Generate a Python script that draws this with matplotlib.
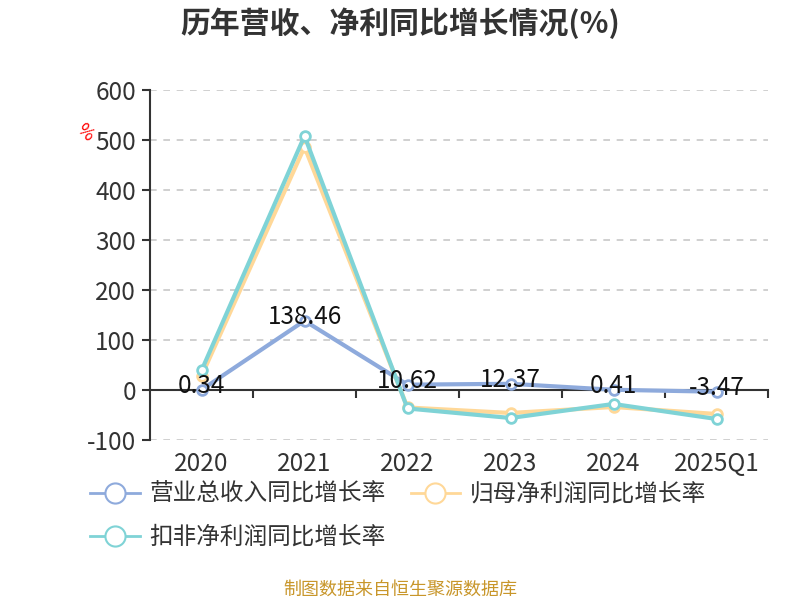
import matplotlib.pyplot as plt
from matplotlib.lines import Line2D

plt.rcParams['font.family'] = ['Noto Sans CJK SC', 'DejaVu Sans']
plt.rcParams['axes.unicode_minus'] = False

# data
years = ['2020', '2021', '2022', '2023', '2024', '2025Q1']
revenue_growth = [0.34, 138.46, 10.62, 12.37, 0.41, -3.47]
parent_profit_growth = [28, 486, -35, -46, -34, -48]
deducted_profit_growth = [39, 508, -37, -56, -28, -58]

series_names = ['营业总收入同比增长率', '归母净利润同比增长率', '扣非净利润同比增长率']
colors = ['#8eaadc', '#ffd898', '#7fd3d6']

fig = plt.figure(figsize=(8, 6), dpi=100)
ax = fig.add_axes([0.1875, 0.2667, 0.7725, 0.5833])

x = list(range(len(years)))
for vals, c in zip([revenue_growth, parent_profit_growth, deducted_profit_growth], colors):
    ax.plot(x, vals, color=c, lw=3, marker='o', markersize=7,
            markerfacecolor='white', markeredgecolor=c, markeredgewidth=2, zorder=3)

for xi, v in zip(x, revenue_growth):
    ax.annotate(f'{v:.2f}', (xi, v), xytext=(0, 3), textcoords='offset points',
                ha='center', va='center', fontsize=17.5, color='#111111', zorder=5)

ax.set_xlim(-0.5, len(years) - 0.5)
ax.set_ylim(-100, 600)
ax.set_yticks(range(-100, 601, 100))
ax.yaxis.grid(True, linestyle=(0, (4, 4)), color='#c8c8c8', lw=1.2)
ax.set_axisbelow(True)

for s in ['top', 'right']:
    ax.spines[s].set_visible(False)
ax.spines['left'].set_color('#333333')
ax.spines['left'].set_linewidth(1.5)
ax.spines['bottom'].set_position(('data', 0))
ax.spines['bottom'].set_color('#333333')
ax.spines['bottom'].set_linewidth(1.5)

ax.tick_params(axis='y', length=6, width=1.5, color='#333333', labelsize=17.5,
               labelcolor='#333333', pad=4)
ax.set_xticks([i + 0.5 for i in x])
ax.set_xticklabels([])
ax.tick_params(axis='x', length=6, width=1.5, color='#333333', direction='out')

sec = ax.secondary_xaxis(0.0)
sec.set_xticks(x)
sec.set_xticklabels(years)
sec.tick_params(length=0, labelsize=17.5, labelcolor='#333333', pad=8)
sec.spines['bottom'].set_visible(False)

ax.text(-0.105, 0.88, '%', transform=ax.transAxes, color='red', fontsize=13,
        rotation=-45, ha='center', va='center')

fig.text(0.5, 0.962, '历年营收、净利同比增长情况(%)', ha='center', va='center',
         fontsize=21.5, fontweight='bold', color='#333333')

handles = [Line2D([0], [0], color=c, lw=2, marker='o', markersize=14.5,
                  markerfacecolor='white', markeredgecolor=c, markeredgewidth=1.5)
           for c in colors]
# matplotlib fills legend columns first, so reorder to get row-wise layout
order = [0, 2, 1]
fig.legend([handles[i] for i in order], [series_names[i] for i in order],
           loc='upper left', bbox_to_anchor=(0.1125, 0.195),
           ncol=2, frameon=False, fontsize=17, handlelength=2.1,
           handletextpad=0.42, columnspacing=1.05, labelspacing=0.85,
           borderpad=0, borderaxespad=0, labelcolor='#333333')

fig.text(0.5, 0.017, '制图数据来自恒生聚源数据库', ha='center', va='center',
         fontsize=13, color='#c8962a')

fig.savefig('out.png', dpi=100)
